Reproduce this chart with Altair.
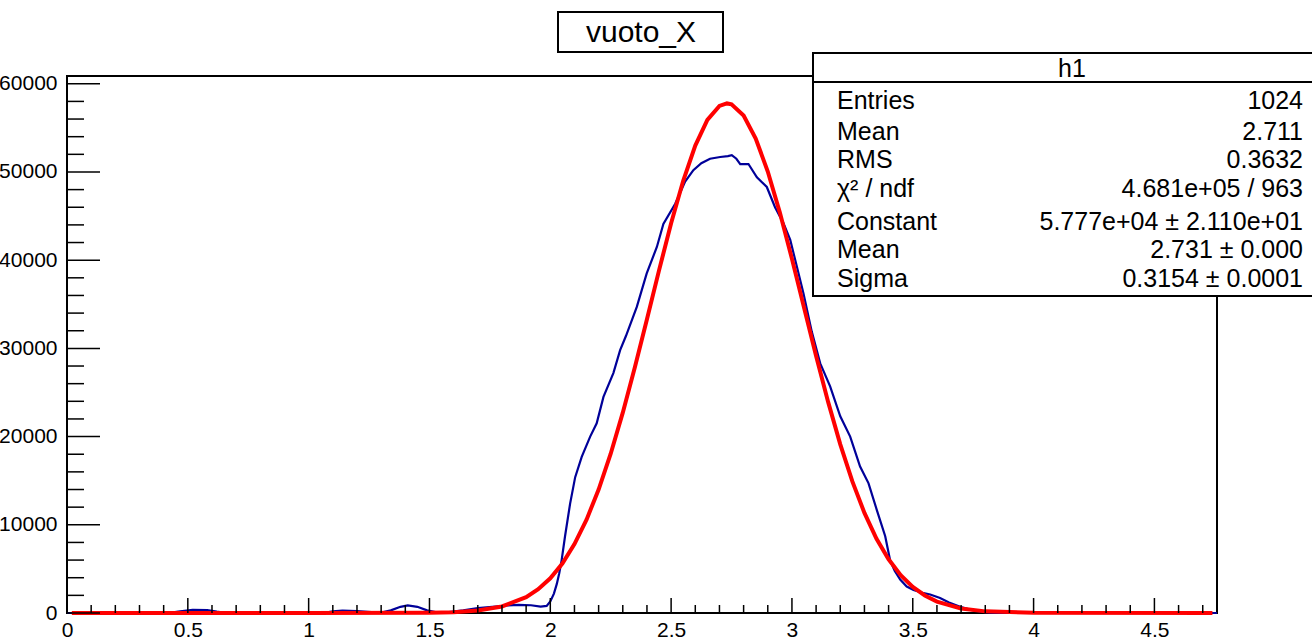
import altair as alt
import pandas as pd

FONT = "Liberation Sans"

# ---------------- data ----------------
hist_x = [0.00, 0.42, 0.46, 0.52, 0.58, 0.62, 0.66, 1.06, 1.10, 1.14, 1.20, 1.26, 1.30,
          1.34, 1.38, 1.41, 1.45, 1.49, 1.53, 1.58, 1.64, 1.70, 1.76, 1.82, 1.87, 1.92,
          1.96, 1.985, 2.00, 2.015, 2.027, 2.037, 2.047, 2.061, 2.082, 2.103, 2.130,
          2.165, 2.192, 2.220, 2.261, 2.289, 2.313, 2.358, 2.399, 2.441, 2.468, 2.517,
          2.558, 2.592, 2.625, 2.661, 2.703, 2.735, 2.751, 2.770, 2.786, 2.820, 2.855,
          2.896, 2.930, 2.965, 2.993, 3.020, 3.048, 3.082, 3.117, 3.158, 3.200, 3.241,
          3.282, 3.317, 3.351, 3.386, 3.406, 3.425, 3.448, 3.475, 3.503, 3.540, 3.572,
          3.613, 3.650, 3.696, 3.740, 3.779, 3.820, 3.860, 4.28, 4.33, 4.38, 4.42, 4.759]
hist_y = [0, 0, 150, 370, 330, 150, 0, 0, 200, 260, 220, 100, 50,
          300, 700, 860, 700, 300, 80, 100, 300, 550, 700, 850, 920, 880,
          730, 800, 1300, 2200, 3300, 4500, 6000, 8700, 12400, 15400, 17700,
          20000, 21500, 24500, 27200, 29800, 31400, 34700, 38500, 41500, 44100, 46400,
          48900, 50200, 51000, 51500, 51700, 51800, 51900, 51500, 50900, 50900, 49400,
          48300, 46000, 44200, 42300, 39300, 36200, 31900, 28300, 25700, 22300, 20000,
          16600, 14700, 11700, 8700, 6000, 4800, 3800, 3000, 2600, 2300, 2100,
          1700, 1200, 700, 350, 180, 50, 0, 0, 60, 60, 0, 0]

fit_x = [0.02, 1.0, 1.5, 1.6, 1.7, 1.8, 1.9, 1.95, 2.0, 2.05, 2.1, 2.15, 2.2, 2.25,
         2.3, 2.35, 2.4, 2.45, 2.5, 2.55, 2.6, 2.65, 2.7, 2.731, 2.75, 2.8, 2.85, 2.9,
         2.95, 3.0, 3.05, 3.1, 3.15, 3.2, 3.25, 3.3, 3.35, 3.4, 3.45, 3.5, 3.55, 3.6,
         3.7, 3.8, 4.0, 4.74]
fit_y = [0, 0, 28, 93, 276, 741, 1796, 2692, 3937, 5616, 7806, 10585, 13998, 18054,
         22710, 27852, 33305, 38844, 44183, 49001, 52998, 55898, 57491, 57770, 57665,
         56405, 53800, 50047, 45396, 40156, 34640, 29139, 23905, 19122, 14916, 11346,
         8417, 6089, 4296, 2957, 1984, 1298, 515, 185, 18, 0]

x_major = [0, 0.5, 1, 1.5, 2, 2.5, 3, 3.5, 4, 4.5]
x_minor = [0.1, 0.2, 0.3, 0.4, 0.6, 0.7, 0.8, 0.9, 1.1, 1.2, 1.3, 1.4, 1.6, 1.7, 1.8,
           1.9, 2.1, 2.2, 2.3, 2.4, 2.6, 2.7, 2.8, 2.9, 3.1, 3.2, 3.3, 3.4, 3.6, 3.7,
           3.8, 3.9, 4.1, 4.2, 4.3, 4.4, 4.6, 4.7]
y_major = [0, 10000, 20000, 30000, 40000, 50000, 60000]
y_minor = [2000, 4000, 6000, 8000, 12000, 14000, 16000, 18000, 22000, 24000, 26000,
           28000, 32000, 34000, 36000, 38000, 42000, 44000, 46000, 48000, 52000,
           54000, 56000, 58000]

title_text = "vuoto_X"
stats_header = "h1"
stat_names = ["Entries", "Mean", "RMS", "χ² / ndf", "Constant", "Mean", "Sigma"]
stat_values = ["1024", "2.711", "0.3632", "4.681e+05 / 963",
               "5.777e+04 ± 2.110e+01", "2.731 ± 0.000", "0.3154 ± 0.0001"]

# ---------------- layout ----------------
W, H = 1150, 537
XMAX, YMAX = 4.759, 60880
stat_rows_y = [33, 64, 92, 121, 154, 182, 211]

xs = alt.Scale(domain=[0, XMAX], nice=False, zero=False)
ys = alt.Scale(domain=[0, YMAX], nice=False, zero=False)

x_axis = alt.Axis(values=x_major, format="~g", title=None, grid=False, ticks=False,
                  domain=False, labelFontSize=21, labelFont=FONT, labelColor="black",
                  labelPadding=6, labelFlush=False, labelOverlap=False)
y_axis = alt.Axis(values=y_major, format="d", title=None, grid=False, ticks=False,
                  domain=False, labelFontSize=21, labelFont=FONT, labelColor="black",
                  labelPadding=10, labelFlush=False, labelOverlap=False)

hist_df = pd.DataFrame({"x": hist_x, "y": hist_y})
fit_df = pd.DataFrame({"x": fit_x, "y": fit_y})

hist = alt.Chart(hist_df).mark_line(color="#000099", strokeWidth=2.2).encode(
    x=alt.X("x:Q", scale=xs, axis=x_axis),
    y=alt.Y("y:Q", scale=ys, axis=y_axis),
)
fit = alt.Chart(fit_df).mark_line(color="#ff0000", strokeWidth=4).encode(
    x=alt.X("x:Q", scale=xs, axis=x_axis),
    y=alt.Y("y:Q", scale=ys, axis=y_axis),
)


def xticks(vals, length):
    return alt.Chart(pd.DataFrame({"x": vals})).mark_rule(color="black", strokeWidth=1.5).encode(
        x=alt.X("x:Q", scale=xs, axis=x_axis),
        y=alt.value(H), y2=alt.value(H - length))


def yticks(vals, length):
    return alt.Chart(pd.DataFrame({"y": vals})).mark_rule(color="black", strokeWidth=1.5).encode(
        y=alt.Y("y:Q", scale=ys, axis=y_axis),
        x=alt.value(0), x2=alt.value(length))


one = pd.DataFrame({"k": [0]})


def box(x1, x2, y1, y2):
    return alt.Chart(one).mark_rect(fill="white", stroke="black", strokeWidth=2).encode(
        x=alt.value(x1), x2=alt.value(x2), y=alt.value(y1), y2=alt.value(y2))


def hline(x1, x2, y):
    return alt.Chart(one).mark_rule(color="black", strokeWidth=2).encode(
        x=alt.value(x1), x2=alt.value(x2), y=alt.value(y))


def label(text, x, y, size, align):
    return alt.Chart(pd.DataFrame({"t": [text]})).mark_text(
        font=FONT, fontSize=size, align=align, baseline="alphabetic", color="black"
    ).encode(x=alt.value(x), y=alt.value(y), text="t:N")


layers = [hist, fit,
          xticks(x_major, 15), xticks(x_minor, 8),
          yticks(y_major, 33), yticks(y_minor, 17),
          box(491, 656, -64, -24),
          label(title_text, 574, -34, 30, "center"),
          box(746, 1275, -23, 220),
          hline(746, 1275, 6),
          label(stats_header, 1005, 1, 25, "center")]
for name, val, yy in zip(stat_names, stat_values, stat_rows_y):
    layers.append(label(name, 770, yy, 25, "left"))
    layers.append(label(val, 1236, yy, 25, "right"))

chart = alt.layer(*layers).properties(
    width=W, height=H,
    autosize=alt.AutoSizeParams(type="none"),
    padding={"left": 67, "top": 76, "right": 95, "bottom": 30},
    background="white",
).configure_view(stroke="black", strokeWidth=2)

chart.save("out.html", embed_options={"renderer": "svg", "actions": False})
